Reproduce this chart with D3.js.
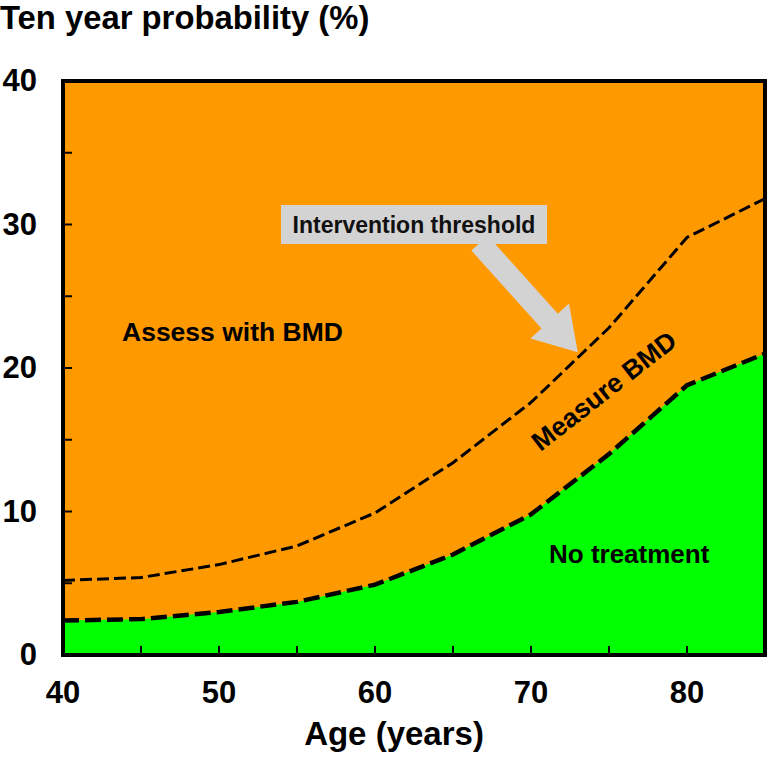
<!DOCTYPE html>
<html><head><meta charset="utf-8">
<script src="https://cdn.jsdelivr.net/npm/d3@7"></script>
<style>body{margin:0;background:#fff}svg{display:block}text{font-family:"Liberation Sans",Arial,Helvetica,sans-serif;font-weight:bold;fill:#000}</style>
</head><body>
<script>
const ages = [40, 45, 50, 55, 60, 65, 70, 75, 80, 85];
const interventionThreshold = [5.2, 5.4, 6.3, 7.6, 9.9, 13.4, 17.6, 22.8, 29.1, 31.8];
const lowerThreshold = [2.4, 2.5, 3.0, 3.7, 4.9, 7.0, 9.8, 14.0, 18.8, 21.0];
const yTickLabels = [0, 10, 20, 30, 40];
const xTickLabels = [40, 50, 60, 70, 80];
const regionLabels = ["Assess with BMD", "Measure BMD", "No treatment"];

const W = 768, H = 761;
const svg = d3.select("body").append("svg").attr("width", W).attr("height", H);
const x = d3.scaleLinear().domain([40, 85]).range([63, 765]);
const y = d3.scaleLinear().domain([0, 40]).range([655, 81]);

const upper = ages.map((a, i) => [a, interventionThreshold[i]]);
const lower = ages.map((a, i) => [a, lowerThreshold[i]]);
const curve = d3.curveLinear;

svg.append("rect").attr("x", x(40)).attr("y", y(40)).attr("width", x(85) - x(40)).attr("height", y(0) - y(40)).attr("fill", "#ff9900");
svg.append("path").datum(lower)
  .attr("d", d3.area().x(d => x(d[0])).y0(y(0)).y1(d => y(d[1])).curve(curve))
  .attr("fill", "#00ff00");
const line = d3.line().x(d => x(d[0])).y(d => y(d[1])).curve(curve);
svg.append("path").datum(lower).attr("d", line).attr("fill", "none").attr("stroke", "#000").attr("stroke-width", 4.5).attr("stroke-dasharray", "16,6");
svg.append("path").datum(upper).attr("d", line).attr("fill", "none").attr("stroke", "#000").attr("stroke-width", 3).attr("stroke-dasharray", "12,5");

const yTicks = d3.range(0, 41, 5), xTicks = d3.range(40, 86, 5);
svg.append("g").selectAll("line").data(yTicks).join("line")
  .attr("x1", x(40)).attr("x2", x(40) + 9).attr("y1", d => y(d)).attr("y2", d => y(d)).attr("stroke", "#000").attr("stroke-width", 2);
svg.append("g").selectAll("line").data(xTicks).join("line")
  .attr("x1", d => x(d)).attr("x2", d => x(d)).attr("y1", y(0)).attr("y2", y(0) - 9).attr("stroke", "#000").attr("stroke-width", 2);

svg.append("rect").attr("x", x(40)).attr("y", y(40)).attr("width", x(85) - x(40)).attr("height", y(0) - y(40))
  .attr("fill", "none").attr("stroke", "#000").attr("stroke-width", 4);

svg.append("g").selectAll("text").data(yTickLabels).join("text")
  .attr("x", 37).attr("y", d => y(d) + 10).attr("text-anchor", "end").attr("font-size", 31).text(d => d);
svg.append("g").selectAll("text").data(xTickLabels).join("text")
  .attr("x", d => x(d)).attr("y", 703).attr("text-anchor", "middle").attr("font-size", 31).text(d => d);

svg.append("text").attr("x", 0).attr("y", 29).attr("font-size", 32.8).text("Ten year probability (%)");
svg.append("text").attr("x", 394).attr("y", 745).attr("text-anchor", "middle").attr("font-size", 33).text("Age (years)");

svg.append("text").attr("x", 122).attr("y", 341).attr("font-size", 26.5).text(regionLabels[0]);
svg.append("text").attr("x", 549).attr("y", 563).attr("font-size", 26).text(regionLabels[2]);
svg.append("text").attr("transform", "translate(604,391) rotate(-38)").attr("text-anchor", "middle")
  .attr("dominant-baseline", "central").attr("font-size", 26.5).text(regionLabels[1]);

const start = [66.7, 28.7], tip = [73.0, 21.1];
const sx = x(start[0]), sy = y(start[1]), tx = x(tip[0]), ty = y(tip[1]);
const L = Math.hypot(tx - sx, ty - sy), ux = (tx - sx) / L, uy = (ty - sy) / L, px = -uy, py = ux;
const shaftW = 22, headW = 52, headL = 42;
const bx = tx - ux * headL, by = ty - uy * headL;
const pts = [
  [sx + px * shaftW / 2, sy + py * shaftW / 2],
  [bx + px * shaftW / 2, by + py * shaftW / 2],
  [bx + px * headW / 2, by + py * headW / 2],
  [tx, ty],
  [bx - px * headW / 2, by - py * headW / 2],
  [bx - px * shaftW / 2, by - py * shaftW / 2],
  [sx - px * shaftW / 2, sy - py * shaftW / 2]
];
svg.append("polygon").attr("points", pts.map(p => p.join(",")).join(" ")).attr("fill", "#d3d3d3");
svg.append("rect").attr("x", 281).attr("y", 205).attr("width", 266).attr("height", 39).attr("fill", "#d3d3d3");
svg.append("text").attr("x", 414).attr("y", 233).attr("text-anchor", "middle").attr("font-size", 23).style("fill", "#111").text("Intervention threshold");
</script>
</body></html>
